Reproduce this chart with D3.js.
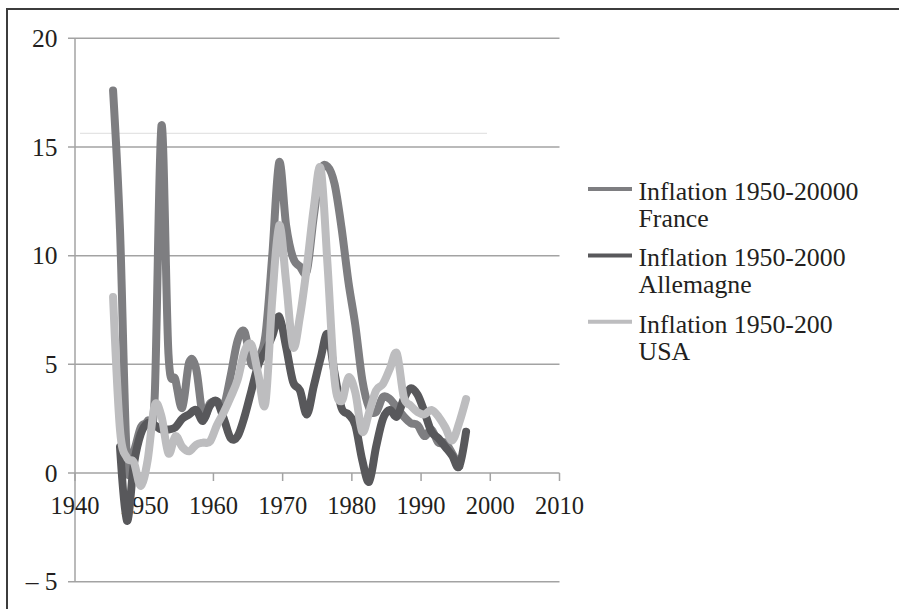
<!DOCTYPE html>
<html><head><meta charset="utf-8">
<script src="https://cdn.jsdelivr.net/npm/d3@7"></script>
<style>body{margin:0;background:#fff}svg{display:block}</style>
</head><body>
<svg id="c" width="899" height="609"></svg>
<script>
const years = [1945,1946,1947,1948,1949,1950,1951,1952,1953,1954,1955,1956,1957,1958,1959,1960,1961,1962,1963,1964,1965,1966,1967,1968,1969,1970,1971,1972,1973,1974,1975,1976,1977,1978,1979,1980,1981,1982,1983,1984,1985,1986,1987,1988,1989,1990,1991,1992,1993,1994,1995,1996];
const france = [17.6,11.2,0.6,1.0,2.1,2.4,3.4,16.0,5.5,4.3,3.0,5.1,4.8,2.6,3.2,3.3,3.1,4.5,6.1,6.5,5.0,5.3,6.3,10.0,14.3,11.4,9.9,9.5,9.3,11.8,13.9,14.1,13.3,11.3,8.8,6.8,4.3,3.0,2.8,3.5,3.4,3.0,2.6,2.3,2.2,1.7,2.0,1.4,1.4,0.9,0.3,null];
const allemagne = [null,1.2,-2.2,0.4,1.8,2.3,2.2,2.0,2.0,2.1,2.5,2.7,2.9,2.4,3.1,3.3,2.5,1.6,1.7,2.6,3.8,5.0,5.6,6.3,7.2,5.8,4.2,3.8,2.7,4.0,5.3,6.4,4.6,3.0,2.7,2.2,0.6,-0.4,1.2,2.5,2.9,2.6,3.4,3.9,3.6,2.8,1.9,1.6,1.2,0.8,0.3,1.9];
const usa = [8.1,2.0,0.7,0.5,-0.6,0.6,3.1,2.6,0.9,1.7,1.2,1.0,1.3,1.4,1.45,2.2,2.8,3.5,4.3,5.6,5.9,4.5,3.2,8.0,11.4,8.8,5.8,7.2,9.5,12.2,14.0,9.5,4.3,3.3,4.4,3.7,1.9,2.8,3.8,4.1,4.8,5.5,3.5,3.1,2.8,2.7,2.9,2.6,2.1,1.5,2.3,3.4];
const seriesNames = [["Inflation 1950-20000","France"],["Inflation 1950-2000","Allemagne"],["Inflation 1950-200","USA"]];
const xTicks = [1940,1950,1960,1970,1980,1990,2000,2010];
const yTicks = [20,15,10,5,0,-5];
const yTickLabels = ["20","15","10","5","0","\u2013 5"];

const series = [
  {values: france, color: "#7e7e81"},
  {values: allemagne, color: "#58585b"},
  {values: usa, color: "#bdbdbf"}
];

const svg = d3.select("#c");
const x = d3.scaleLinear().domain([1940, 2010]).range([75, 559.5]);
const y = d3.scaleLinear().domain([-5, 20]).range([581.7, 38.3]);
const font = "'Liberation Serif','Times New Roman',serif";
const textColor = "#231f20";

// outer frame (top & left edges visible)
svg.append("path").attr("d", "M7,609 L7,9 L899,9").attr("fill","none").attr("stroke","#3c3c3c").attr("stroke-width",2);

// gridlines
svg.append("g").selectAll("line").data(yTicks).join("line")
  .attr("x1", 68).attr("x2", x(2010))
  .attr("y1", d => y(d)).attr("y2", d => y(d))
  .attr("stroke", "#a3a3a3").attr("stroke-width", 1.5);

// faint stray line
svg.append("line").attr("x1", 80).attr("x2", 487).attr("y1", 133.3).attr("y2", 133.3)
  .attr("stroke", "#e4e4e4").attr("stroke-width", 1.2);

// y axis line
svg.append("line").attr("x1", x(1940)).attr("x2", x(1940)).attr("y1", y(20)).attr("y2", y(-5))
  .attr("stroke", "#a3a3a3").attr("stroke-width", 1.5);

// x ticks on zero line
svg.append("g").selectAll("line").data(xTicks).join("line")
  .attr("x1", d => x(d)).attr("x2", d => x(d))
  .attr("y1", y(0)).attr("y2", y(0) + 8)
  .attr("stroke", "#a3a3a3").attr("stroke-width", 1.5);

// y labels
svg.append("g").selectAll("text").data(yTicks).join("text")
  .attr("x", 57.5).attr("y", d => y(d)).attr("dy", "0.34em")
  .attr("text-anchor", "end").attr("font-family", font).attr("font-size", 25.5)
  .attr("fill", textColor).text((d, i) => yTickLabels[i]);

// x labels
svg.append("g").selectAll("text").data(xTicks).join("text")
  .attr("x", d => x(d)).attr("y", y(0) + 40.5)
  .attr("text-anchor", "middle").attr("font-family", font).attr("font-size", 24.5)
  .attr("fill", textColor).text(d => d);

// lines
const line = d3.line()
  .defined(d => d.v !== null)
  .x(d => x(d.yr + 0.5)).y(d => y(d.v))
  .curve(d3.curveCatmullRom.alpha(0));
series.forEach(s => {
  const pts = years.map((yr, i) => ({yr, v: s.values[i]}));
  svg.append("path").datum(pts).attr("d", line)
    .attr("fill", "none").attr("stroke", s.color).attr("stroke-width", 8)
    .attr("stroke-linejoin", "round").attr("stroke-linecap", "round");
});

// legend
const lg = svg.append("g");
seriesNames.forEach((nm, i) => {
  const by = 200 + i * 66.4;
  lg.append("line").attr("x1", 588).attr("x2", 632).attr("y1", by - 11).attr("y2", by - 11)
    .attr("stroke", series[i].color).attr("stroke-width", 4);
  const t = lg.append("text").attr("font-family", font).attr("font-size", 25.8).attr("fill", textColor);
  t.append("tspan").attr("x", 638.5).attr("y", by).text(nm[0]);
  t.append("tspan").attr("x", 638.5).attr("y", by + 26.7).text(nm[1]);
});
</script>
</body></html>
